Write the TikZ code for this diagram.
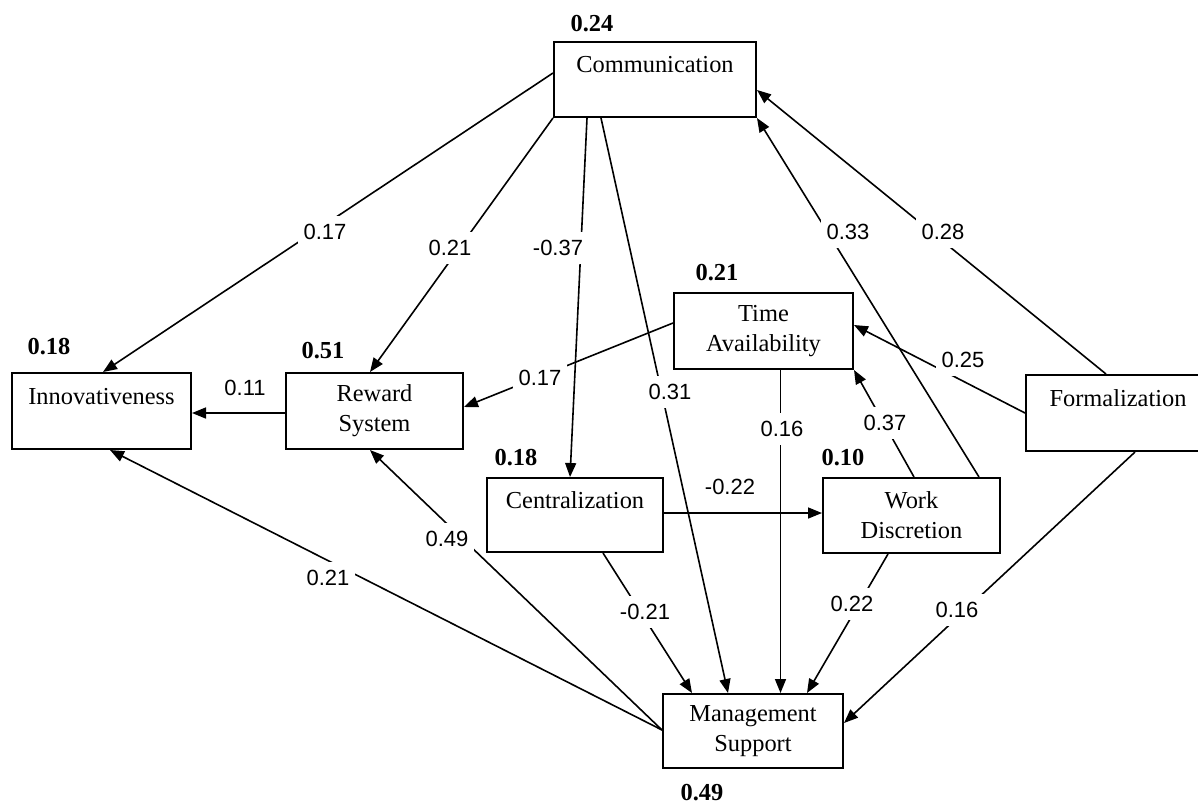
\documentclass[tikz,border=0pt]{standalone}
\usepackage{fontspec}
\setmainfont{Liberation Serif}
\newfontfamily\lblfont{Liberation Sans}
\usetikzlibrary{arrows.meta}
\begin{document}
\begin{tikzpicture}[x=0.5pt,y=-0.5pt,
  box/.style={draw, line width=1pt, inner sep=0pt, align=center,
    font=\fontsize{12.2}{15}\selectfont, minimum height=37.5pt},
  conn/.style={line width=0.8pt, -{Triangle[length=7pt,width=5.5pt]}},
  coef/.style={fill=white, inner xsep=3pt, inner ysep=4pt,
    font=\lblfont\fontsize{11}{13}\selectfont},
  plain/.style={inner sep=1pt, font=\lblfont\fontsize{11}{13}\selectfont},
  rsq/.style={inner sep=0pt, font=\fontsize{12.2}{14}\selectfont\bfseries}]
\useasboundingbox (0,0) rectangle (1198,805);
\fill[white] (0,0) rectangle (1198,805);

% boxes
\node[box, minimum width=101pt] (comm) at (655,79.5) {Communication\\\mbox{}};
\node[box, minimum width=89.5pt, minimum height=38pt] (innov) at (101.5,411) {Innovativeness\\\mbox{}};
\node[box, minimum width=88.5pt, minimum height=38pt] (reward) at (374.5,411) {Reward\\System};
\node[box, minimum width=89.5pt, minimum height=38pt] (time) at (763.5,331) {Time\\Availability};
\node[box, minimum width=88pt, minimum height=37pt] (centr) at (575,515) {Centralization\\\mbox{}};
\node[box, minimum width=88.5pt] (work) at (911.5,515.5) {Work\\Discretion};
\node[box, minimum width=92pt, minimum height=38pt] (form) at (1118,413) {Formalization\\\mbox{}};
\node[box, minimum width=90pt, minimum height=37pt] (mgmt) at (753,731) {Management\\Support};

% R-squared values
\node[rsq] (r1) at (592,24) {0.24};
\node[rsq] (r2) at (49,347) {0.18};
\node[rsq] (r3) at (323,351) {0.51};
\node[rsq] (r4) at (717,273) {0.21};
\node[rsq] (r5) at (516,458) {0.18};
\node[rsq] (r6) at (843,458) {0.10};
\node[rsq] (r7) at (702,793) {0.49};

% connectors
\coordinate (tm) at ([shift={(17,0)}]time.south);
\draw[conn] ([shift={(0,-6.5)}]comm.west) -- ([shift={(1.5,0)}]innov.north);
\draw[conn] (comm.south west) -- ([shift={(-4.5,0)}]reward.north);
\draw[conn] ([shift={(34,0)}]comm.south west) -- ([shift={(-5,0)}]centr.north);
\draw[conn] ([shift={(48,0)}]comm.south west) -- ([shift={(-25,0)}]mgmt.north);
\draw[conn] ([shift={(81,0)}]form.north west) -- ([shift={(0,10.5)}]comm.east);
\draw[conn] ([shift={(157,0)}]work.north west) -- (comm.south east);
\draw[conn] (form.west) -- ([shift={(0,-6)}]time.east);
\draw[conn] ([shift={(92,0)}]work.north west) -- (time.south east);
\draw[conn] ([shift={(0,-8)}]time.west) -- ([shift={(0,-4)}]reward.east);
\draw[conn] (tm) -- (tm |- mgmt.north);
\draw[conn] ([shift={(0,-2)}]centr.east) -- ([shift={(0,-2.5)}]work.west);
\draw[conn] ([shift={(28,0)}]centr.south) -- ([shift={(-61,0)}]mgmt.north);
\draw[conn] ([shift={(-23.5,0)}]work.south) -- ([shift={(54,0)}]mgmt.north);
\draw[conn] ([shift={(17,0)}]form.south) -- ([shift={(0,-8)}]mgmt.east);
\draw[conn] ([shift={(0,-1)}]mgmt.west) -- ([shift={(-4.5,0)}]reward.south);
\draw[conn] ([shift={(0,-1)}]mgmt.west) -- ([shift={(8.5,0)}]innov.south);
\draw[conn] ([shift={(0,2)}]reward.west) -- ([shift={(0,2)}]innov.east);

% path coefficients
\node[coef] (c1) at (325,232) {0.17};
\node[coef] (c2) at (450,248) {0.21};
\node[coef] (c3) at (558,248) {-0.37};
\node[coef] (c4) at (670,392) {0.31};
\node[coef] (c5) at (943,232) {0.28};
\node[coef] (c6) at (848,232) {0.33};
\node[coef] (c7) at (963,360) {0.25};
\node[coef] (c8) at (885,423) {0.37};
\node[coef] (c9) at (540,378) {0.17};
\node[coef] (c10) at (782,429) {0.16};
\node[plain] (c11) at (730,487) {-0.22};
\node[coef] (c12) at (645,612) {-0.21};
\node[coef] (c13) at (852,604) {0.22};
\node[coef] (c14) at (957,610) {0.16};
\node[coef] (c15) at (447,539) {0.49};
\node[coef] (c16) at (328,578) {0.21};
\node[plain] (c17) at (245,388) {0.11};
\end{tikzpicture}
\end{document}
